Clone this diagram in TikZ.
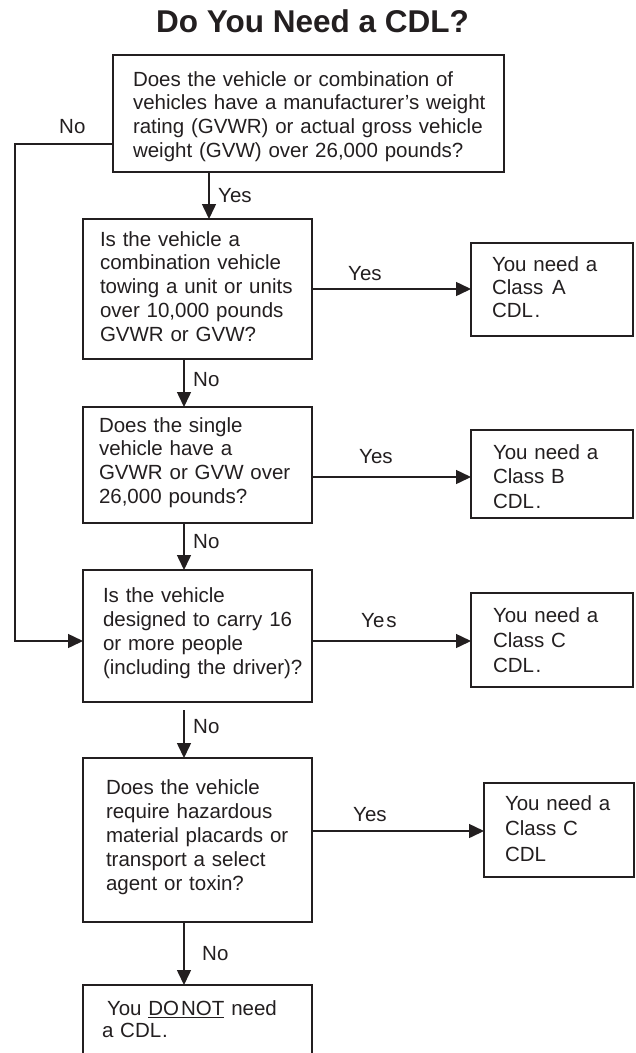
\documentclass[tikz,border=0pt]{standalone}
\usepackage{fontspec}
\setmainfont{Liberation Sans}
\usetikzlibrary{arrows.meta,calc}
\definecolor{ink}{RGB}{35,31,32}
\newsavebox\ulbox
\newcommand\myul[1]{\sbox\ulbox{#1}\rlap{\rule[-3pt]{\wd\ulbox}{1.2pt}}\usebox\ulbox}
\newcommand\bfs[1]{\fontsize{20.5pt}{#1}\selectfont}
\begin{document}
\begin{tikzpicture}[x=1pt,y=-1pt,
  box/.style={draw=ink, line width=1.5pt, inner sep=0pt, outer sep=0pt,
    anchor=north west, align=left, text=ink},
  lab/.style={anchor=base west, inner sep=0pt, text=ink, font=\bfs{24pt}},
  arr/.style={draw=ink, line width=1.5pt, -{Triangle[length=15pt,width=14pt]}}]
\path[fill=white] (0,0) rectangle (636,1053);
\useasboundingbox (0,0) rectangle (636,1053);

\node[anchor=base, inner sep=0pt, text=ink, font=\fontsize{31.5pt}{36pt}\selectfont\bfseries] (title) at (312.5,32) {Do You Need a CDL?};

\node[box, text width=391pt, text height=31pt, text depth=86pt, font=\bfs{23.7pt}] (b1) at (113,55)
  {\setlength\leftskip{20pt}Does the vehicle or combination of\\vehicles have a manufacturer’s weight\\rating (GVWR) or actual gross vehicle\\weight (GVW) over 26,000 pounds?\par};
\node[box, text width=229pt, text height=27pt, text depth=113pt, font=\bfs{23.8pt}] (b2) at (83,219)
  {\setlength\leftskip{17pt}Is the vehicle a\\combination vehicle\\towing a unit or units\\over 10,000 pounds\\GVWR or GVW?\par};
\node[box, text width=162pt, text height=28.7pt, text depth=64.3pt, font=\bfs{22.8pt}] (bA) at (471,243)
  {\setlength\leftskip{21pt}You need a\\Class\hspace{2pt} A\\CDL\hspace{1.5pt}.\par};
\node[box, text width=229pt, text height=25pt, text depth=91pt, font=\bfs{23.7pt}] (b3) at (83,407)
  {\setlength\leftskip{16pt}Does the single\\vehicle have a\\GVWR or GVW over\\26,000 pounds?\par};
\node[box, text width=162pt, text height=29pt, text depth=59pt, font=\bfs{24.5pt}] (bB) at (471,430)
  {\setlength\leftskip{22pt}You need a\\Class B\\CDL\hspace{1.5pt}.\par};
\node[box, text width=229pt, text height=32pt, text depth=100pt, font=\bfs{24.3pt}] (b4) at (83,570)
  {\setlength\leftskip{20pt}Is the vehicle\\designed to carry 16\\or more people\\(including the driver)?\par};
\node[box, text width=162pt, text height=29pt, text depth=65pt, font=\bfs{25pt}] (bC) at (471,593)
  {\setlength\leftskip{22pt}You need a\\Class C\\CDL\hspace{1.5pt}.\par};
\node[box, text width=229pt, text height=36pt, text depth=128pt, font=\bfs{24.2pt}] (b5) at (83,758)
  {\setlength\leftskip{23pt}Does the vehicle\\require hazardous\\material placards or\\transport a select\\agent or toxin?\par};
\node[box, text width=150pt, text height=27pt, text depth=67pt, font=\bfs{25.5pt}] (bD) at (484,783)
  {\setlength\leftskip{21pt}You need a\\Class C\\CDL\par};
\node[box, text width=229pt, text height=30pt, text depth=39pt, font=\bfs{22pt}] (b6) at (83,985)
  {\setlength\leftskip{19pt}\hspace*{5pt}You \myul{DO\hspace{2pt}NOT} need\\a CDL\hspace{1pt}.\par};

% vertical connectors
\draw[arr] ([xshift=-99.5pt]b1.south) -- ([xshift=-99.5pt]b1.south |- b2.north);
\draw[arr] ([xshift=-13.5pt]b2.south) -- ([xshift=-13.5pt]b2.south |- b3.north);
\draw[arr] ([xshift=-13.5pt]b3.south) -- ([xshift=-13.5pt]b3.south |- b4.north);
\draw[arr, shorten <=8pt] ([xshift=-13.5pt]b4.south) -- ([xshift=-13.5pt]b4.south |- b5.north);
\draw[arr] ([xshift=-13.5pt]b5.south) -- ([xshift=-13.5pt]b5.south |- b6.north);

% horizontal connectors
\draw[arr] (b2.east) -- (b2.east -| bA.west);
\draw[arr] ([yshift=-12pt]b3.east) -- ([yshift=-12pt]b3.east -| bB.west);
\draw[arr] ([yshift=-5pt]b4.east) -- ([yshift=-5pt]b4.east -| bC.west);
\draw[arr] ([yshift=9pt]b5.east) -- ([yshift=9pt]b5.east -| bD.west);

% left "No" route
\coordinate (lx) at (15,400);
\draw[arr] ([yshift=-30.5pt]b1.west) -| (lx) |- ([yshift=-5pt]b4.west);

% labels
\node[lab] (l1) at (59,133) {No};
\node[lab] (l2) at (218,202) {Yes};
\node[lab] (l3) at (348,280) {Yes};
\node[lab] (l4) at (193,386) {No};
\node[lab] (l5) at (359,463) {Yes};
\node[lab] (l6) at (193,548) {No};
\node[lab] (l7) at (361,627) {Ye\hspace{2pt}s};
\node[lab] (l8) at (193,733) {No};
\node[lab] (l9) at (353,821) {Yes};
\node[lab] (l10) at (202,960) {No};
\end{tikzpicture}
\end{document}
